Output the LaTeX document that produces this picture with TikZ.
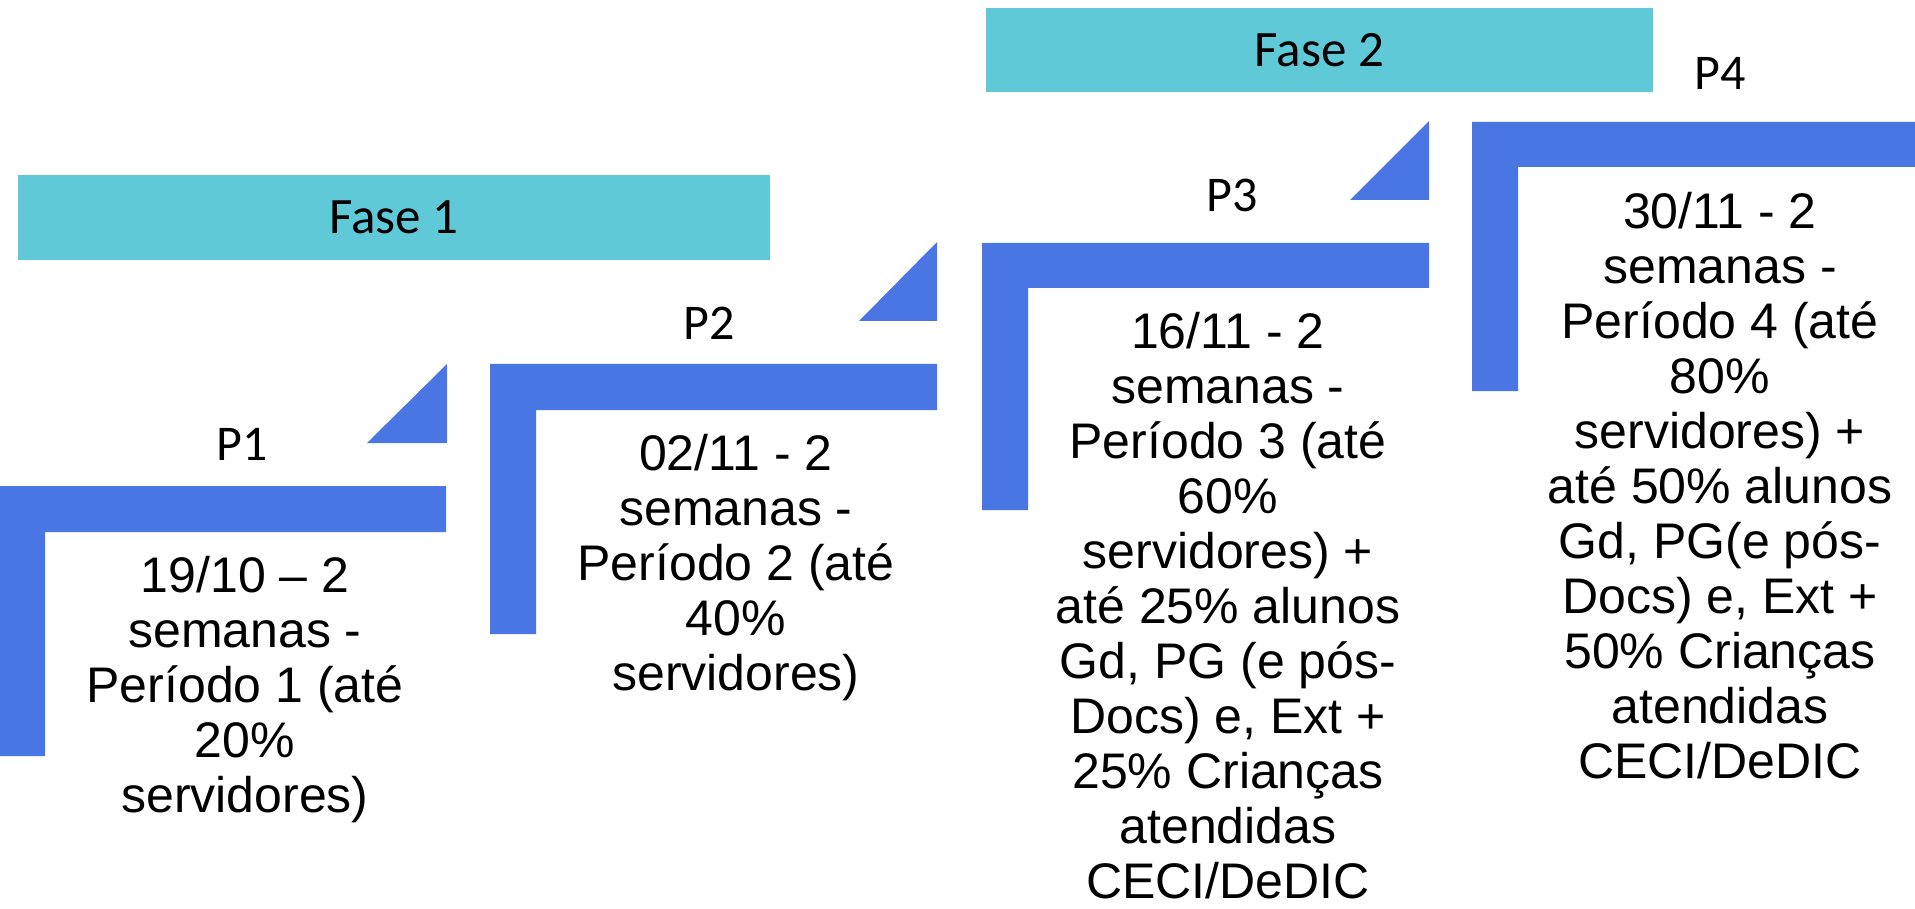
\documentclass[tikz,border=0pt]{standalone}
\usepackage{fontspec}
\setmainfont{Liberation Sans}
\newfontfamily\labelfont{Carlito}
\definecolor{tealbox}{RGB}{95,201,216}
\definecolor{bluebar}{RGB}{74,118,228}
\begin{document}
\begin{tikzpicture}[x=1pt,y=-1pt,
  phasebox/.style={fill=tealbox, draw=none, inner sep=0, font=\labelfont\fontsize{51}{60}\selectfont},
  barshape/.style={fill=bluebar, draw=none},
  plabel/.style={font=\labelfont\fontsize{50}{60}\selectfont, inner sep=0, anchor=base},
  bodytext/.style={font=\fontsize{50}{55}\selectfont, align=center, inner sep=0, anchor=north}]
\useasboundingbox (0,0) rectangle (1915,909);

% phase boxes
\node[phasebox, minimum width=752pt, minimum height=85pt] (fase1) at (394,217.5) {Fase 1};
\node[phasebox, minimum width=667pt, minimum height=84pt] (fase2) at (1319.5,50) {Fase 2};

% L shapes
\fill[barshape] (0,486) -- (446,486) -- (446,532) -- (45,532) -- (45,756) -- (0,756) -- cycle;
\fill[barshape] (490,364) -- (937,364) -- (937,410) -- (536,410) -- (536,634) -- (490,634) -- cycle;
\fill[barshape] (982,243) -- (1429,243) -- (1429,288) -- (1028,288) -- (1028,510) -- (982,510) -- cycle;
\fill[barshape] (1472,122) -- (1915,122) -- (1915,167) -- (1518,167) -- (1518,391) -- (1472,391) -- cycle;

% triangles
\fill[barshape] (447,364) -- (367,443) -- (447,443) -- cycle;
\fill[barshape] (937,242) -- (859,321) -- (937,321) -- cycle;
\fill[barshape] (1429,121) -- (1350,200) -- (1429,200) -- cycle;

% period labels
\node[plabel] (p1) at (242,460) {P1};
\node[plabel] (p2) at (709,340) {P2};
\node[plabel] (p3) at (1232,212) {P3};
\node[plabel] (p4) at (1720,90) {P4};

% texts
\node[bodytext] (t1) at (245,556) {19/10 – 2\\semanas -\\Período 1 (até\\20\%\\servidores)};
\node[bodytext] (t2) at (736,434) {02/11 - 2\\semanas -\\Período 2 (até\\40\%\\servidores)};
\node[bodytext] (t3) at (1228,312) {16/11 - 2\\semanas -\\Período 3 (até\\60\%\\servidores) +\\até 25\% alunos\\Gd, PG (e pós-\\Docs) e, Ext +\\25\% Crianças\\atendidas\\CECI/DeDIC};
\node[bodytext] (t4) at (1720,192) {30/11 - 2\\semanas -\\Período 4 (até\\80\%\\servidores) +\\até 50\% alunos\\Gd, PG(e pós-\\Docs) e, Ext +\\50\% Crianças\\atendidas\\CECI/DeDIC};
\end{tikzpicture}
\end{document}
